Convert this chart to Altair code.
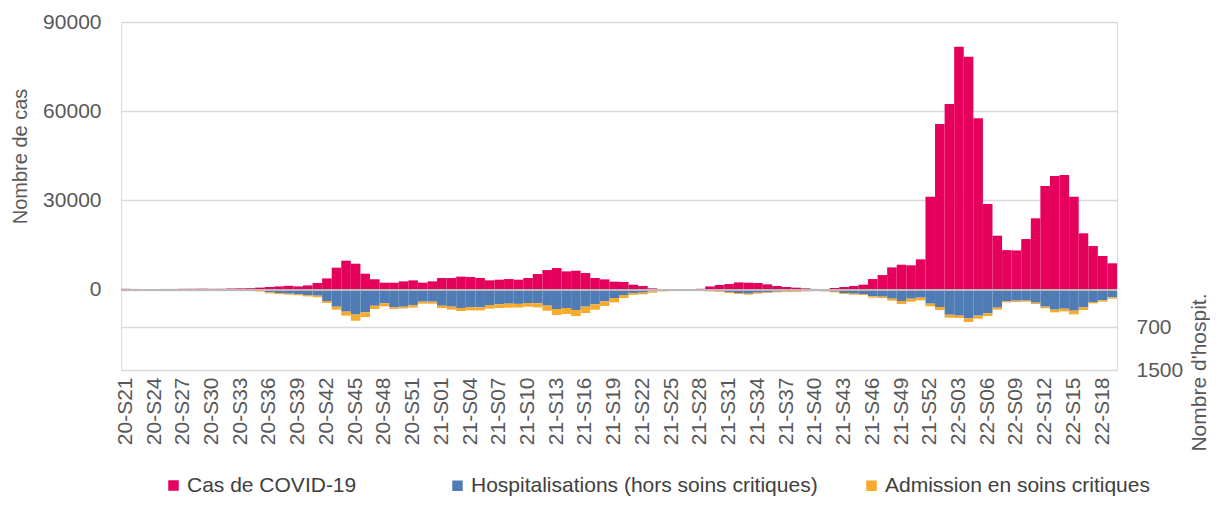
import altair as alt
import pandas as pd

# Week labels (ISO weeks, 2020-S21 to 2022-S19)
semaines = ([f"20-S{w:02d}" for w in range(21, 54)]
            + [f"21-S{w:02d}" for w in range(1, 53)]
            + [f"22-S{w:02d}" for w in range(1, 20)])

# Weekly COVID-19 cases
cas = [300, 250, 200, 200, 250, 250, 300, 300, 350, 300,
       350, 400, 450, 500, 700, 900, 1100, 1300, 1100, 1450,
       2240, 3800, 7400, 9750, 8740, 5380, 3470, 2350, 2350, 2800,
       3140, 2350, 2800, 3920, 3920, 4400, 4260, 3920, 3140, 3360,
       3580, 3360, 3920, 5260, 6600, 7280, 6160, 6380, 5600, 3920,
       3470, 2690, 2580, 1680, 1230, 450, 150, 80, 80, 100,
       300, 1100, 1570, 1900, 2460, 2350, 2240, 1790, 1230, 900,
       670, 450, 220, 220, 560, 900, 1230, 1680, 3580, 4930,
       7500, 8400, 8200, 10200, 31250, 55700, 62400, 81650, 78300, 57600,
       28800, 18150, 13300, 13200, 17030, 24000, 34840, 38200, 38540, 31250,
       18950, 14680, 11320, 8870]

# Hospitalisations (excluding critical care)
hospit = [15, 8, 8, 8, 8, 8, 8, 8, 8, 8,
          8, 8, 8, 15, 25, 50, 62, 75, 87, 100,
          112, 211, 317, 410, 465, 423, 300, 255, 330, 318,
          290, 224, 224, 300, 317, 342, 330, 330, 286, 274,
          261, 265, 249, 255, 298, 361, 342, 380, 317, 274,
          218, 155, 100, 68, 56, 31, 19, 10, 8, 10,
          12, 19, 31, 44, 62, 75, 56, 50, 37, 31,
          31, 19, 12, 19, 37, 62, 75, 81, 124, 130,
          168, 211, 168, 149, 261, 323, 467, 485, 535, 485,
          441, 336, 218, 205, 205, 242, 317, 373, 355, 392,
          330, 230, 199, 143]

# Critical care admissions
soins_critiques = [5, 3, 3, 3, 3, 3, 3, 3, 3, 3,
                   3, 3, 3, 5, 8, 18, 18, 18, 18, 25,
                   30, 37, 56, 75, 115, 87, 62, 56, 31, 31,
                   43, 37, 37, 43, 56, 56, 56, 56, 68, 68,
                   75, 68, 68, 75, 93, 112, 112, 112, 118, 100,
                   87, 81, 56, 31, 31, 25, 12, 6, 5, 5,
                   8, 12, 12, 19, 19, 19, 19, 12, 12, 12,
                   12, 12, 6, 12, 12, 19, 19, 19, 25, 25,
                   37, 56, 56, 50, 50, 56, 56, 44, 68, 56,
                   50, 37, 19, 25, 19, 25, 31, 50, 50, 68,
                   50, 25, 25, 25]

S_CAS = "Cas de COVID-19"
S_HOSP = "Hospitalisations (hors soins critiques)"
S_SC = "Admission en soins critiques"

MAGENTA = "#E4005B"
BLEU = "#4F7CB5"
ORANGE = "#F7AA2B"
GRIS = "#595959"
FONT = "Liberation Sans"

df_cas = pd.DataFrame({"semaine": semaines, "valeur": cas, "serie": S_CAS})
df_hosp = pd.concat([
    pd.DataFrame({"semaine": semaines, "valeur": [-v for v in hospit],
                  "serie": S_HOSP, "ordre": 0}),
    pd.DataFrame({"semaine": semaines, "valeur": [-v for v in soins_critiques],
                  "serie": S_SC, "ordre": 1}),
], ignore_index=True)

x_scale = alt.Scale(domain=semaines, paddingInner=0, paddingOuter=0)


def x_axis():
    return alt.Axis(values=semaines[::3], title=None, labelAngle=270,
                    labelFontSize=21, labelColor=GRIS, labelFont=FONT,
                    labelPadding=7, ticks=False, domain=False,
                    labelOverlap=False, grid=False)


legend_common = dict(title=None, orient="none", direction="horizontal",
                     symbolType="square", symbolSize=110, symbolStrokeWidth=0,
                     labelFontSize=21, labelFont=FONT, labelColor="#404040",
                     labelOffset=3, columnPadding=43, padding=0, labelLimit=500)

cases_layer = alt.Chart(df_cas).mark_bar().encode(
    x=alt.X("semaine:O", sort=semaines, scale=x_scale, axis=x_axis()),
    y=alt.Y("valeur:Q", stack=None,
            scale=alt.Scale(domain=[-27000, 90000], nice=False, zero=False),
            axis=alt.Axis(orient="left", values=[0, 30000, 60000, 90000],
                          title="Nombre de cas", titleFontSize=20,
                          titleFont=FONT, titleColor=GRIS,
                          titleFontWeight="normal", titleAngle=270,
                          titleX=-101, titleY=134, titleAlign="center",
                          titleBaseline="middle",
                          labelFontSize=21, labelFont=FONT, labelColor=GRIS,
                          labelPadding=20, ticks=False, domain=False,
                          labelFlush=False, labelOverlap=False,
                          grid=True, gridColor="#d9d9d9", gridWidth=1.5,
                          format="d")),
    color=alt.Color("serie:N",
                    scale=alt.Scale(domain=[S_CAS], range=[MAGENTA]),
                    legend=alt.Legend(legendX=42, legendY=453, **legend_common)),
)

zero_rule = alt.Chart(df_cas).mark_rule(color="#b9b9b9", strokeWidth=1.5).encode(
    y=alt.datum(0)
)

hosp_layer = alt.Chart(df_hosp).mark_bar().encode(
    x=alt.X("semaine:O", sort=semaines, scale=x_scale, axis=x_axis()),
    y=alt.Y("valeur:Q", stack="zero",
            scale=alt.Scale(domain=[-1500, 5000], nice=False, zero=False),
            axis=alt.Axis(orient="right", values=[-700, -1500],
                          labelExpr="abs(datum.value)",
                          title="Nombre d'hospit.", titleFontSize=21,
                          titleFont=FONT, titleColor=GRIS,
                          titleFontWeight="normal", titleAngle=270,
                          titleX=82, titleY=350, titleAlign="center",
                          titleBaseline="middle",
                          labelFontSize=21, labelFont=FONT, labelColor=GRIS,
                          labelPadding=19, ticks=False, domain=False,
                          labelFlush=False, labelOverlap=False,
                          grid=True, gridColor="#d9d9d9", gridWidth=1.5)),
    color=alt.Color("serie:N",
                    scale=alt.Scale(domain=[S_HOSP, S_SC], range=[BLEU, ORANGE]),
                    legend=alt.Legend(legendX=326, legendY=453, **legend_common)),
    order=alt.Order("ordre:Q"),
)

chart = alt.layer(
    hosp_layer,
    alt.layer(cases_layer, zero_rule),
).resolve_scale(
    y="independent", color="independent"
).resolve_legend(
    color="independent"
).properties(
    width=996, height=348,
    autosize=alt.AutoSizeParams(type="none"),
    padding={"left": 113, "top": 14, "right": 93, "bottom": 128},
).configure_view(
    stroke="#c0c0c0", strokeWidth=1.5
).configure(
    font=FONT
)

chart.save("out.html", embed_options={"renderer": "svg", "actions": False})
